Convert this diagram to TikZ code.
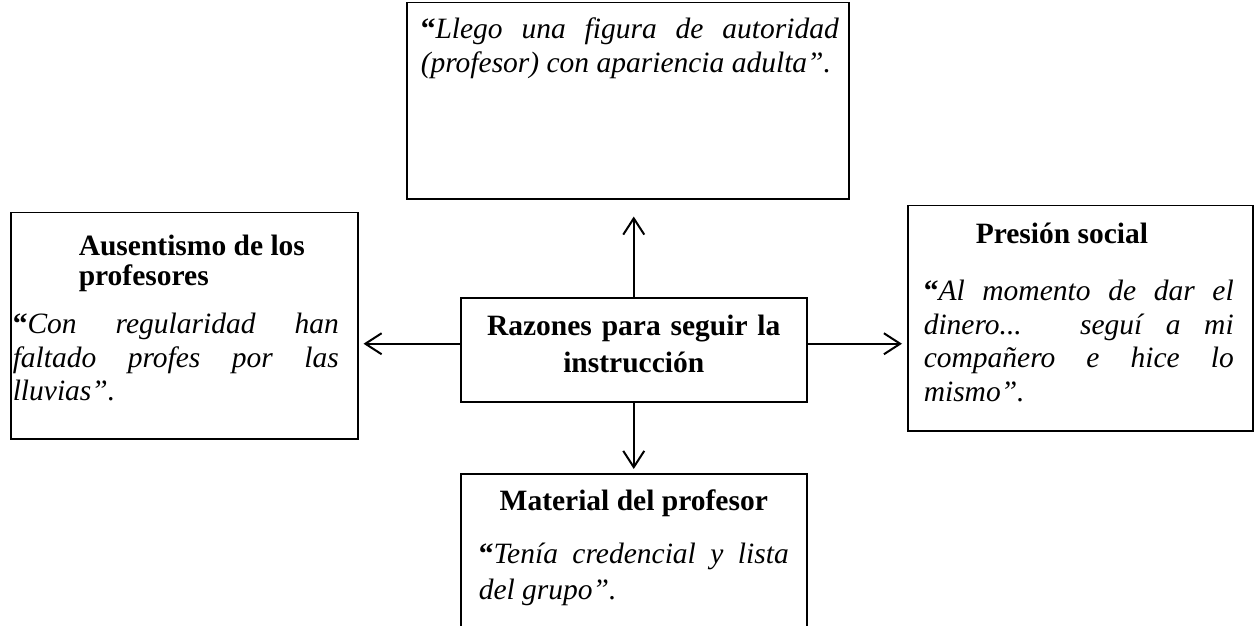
\documentclass[tikz,border=0pt]{standalone}
\usepackage{fontspec}
\setmainfont{Liberation Serif}
\usepackage{tikz}
\usetikzlibrary{arrows.meta}
\newcommand{\quotesize}{\fontsize{11.8}{13.4}\selectfont}
\newcommand{\headsize}{\fontsize{11.8}{12}\selectfont\bfseries}
\tikzstyle{textbox}=[rectangle, draw=black, line width=0.6pt, anchor=north west,
inner sep=0pt, align=justify, font=\quotesize]
\tikzstyle{mainbox}=[rectangle, draw=black, line width=0.6pt, anchor=north west,
inner sep=0pt, align=center, font=\fontsize{11.8}{14.8}\selectfont\bfseries]
\hyphenpenalty=10000
\tolerance=9999

\begin{document}
\begin{tikzpicture}[x=0.4pt,y=-0.4pt,>={Straight Barb[length=6.5pt,width=8.4pt]},line width=0.8pt]
    \useasboundingbox (0,0) rectangle (1254,626);
    \clip (0,0) rectangle (1254,626);
    % The boxes are placed by their top left corners:
    \node[textbox, text width=176.8pt, text height=14.4pt, text depth=64pt] (autoridad) at (406,2)
      {{\leftskip=5.6pt\rightskip=4pt \textbf{“}\textit{Llego una figura de autoridad\linebreak
       (profesor) con apariencia adulta”.}\par}};
    \node[textbox, text width=138.8pt, text height=17.2pt, text depth=73.2pt] (ausentismo) at (10,212)
      {{\headsize\leftskip=27.2pt Ausentismo de los\\profesores\par}\vspace{5.8pt}
       {\leftskip=0.8pt\rightskip=7.6pt \textbf{“}\textit{Con regularidad han\linebreak
       faltado profes por las\linebreak lluvias”.}\par}};
    \node[mainbox, text width=138.4pt, text height=15.2pt, text depth=26.4pt] (razones) at (460,297)
      {Razones para seguir la\\instrucción};
    \node[textbox, text width=138pt, text height=15.2pt, text depth=74.8pt] (presion) at (907,205)
      {{\headsize\leftskip=27.2pt Presión social\par}\vspace{9.4pt}
       {\leftskip=6.4pt\rightskip=7.6pt \textbf{“}\textit{Al momento de dar el\linebreak
       dinero... seguí a mi\linebreak compañero e hice lo\linebreak mismo”.}\par}};
    \node[textbox, text width=138.4pt, text height=14.8pt, text depth=80pt,
      font=\fontsize{11.8}{14.2}\selectfont] (material) at (460,473)
      {{\headsize\centering Material del profesor\par}\vspace{7pt}
       {\leftskip=7.2pt\rightskip=7.2pt \textbf{“}\textit{Tenía credencial y lista\linebreak
       del grupo”.}\par}};
    % Side arrows leave a little above the middle of the centre box:
    \coordinate (izq) at ([yshift=2.4pt]razones.west);
    \coordinate (der) at ([yshift=2.4pt]razones.east);
    \path[->]
    (razones.north) edge[shorten >=6.8pt] (razones.north |- autoridad.south)
    (izq) edge[shorten >=2pt] (izq -| ausentismo.east)
    (der) edge[shorten >=2pt] (der -| presion.west)
    (razones.south) edge[shorten >=1.6pt] (razones.south |- material.north)
    ;
\end{tikzpicture}
\end{document}
